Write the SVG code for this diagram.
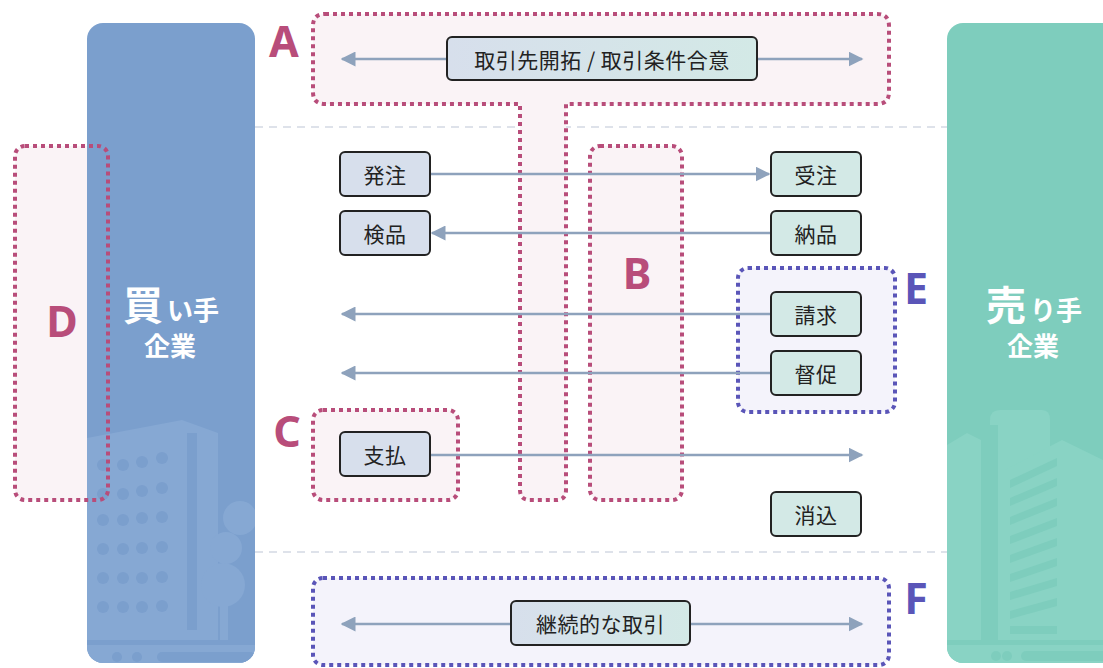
<svg xmlns="http://www.w3.org/2000/svg" width="1103" height="668" viewBox="0 0 1103 668">
  <style>
    .zone-r { fill: #faf3f6; stroke: #b84d7a; stroke-width: 4; stroke-dasharray: 4 4; }
    .zone-b { fill: #f4f3fb; stroke: #5a55b8; stroke-width: 4; stroke-dasharray: 4 4; }
    .tag { font-family: "Noto Sans", "Lato", sans-serif; font-weight: 700; font-size: 43px; text-anchor: middle; }
    .tag-r { fill: #b84d7a; }
    .tag-b { fill: #5a55b8; }
    .node { stroke: #222; stroke-width: 2; }
    .buy { fill: #d7dfec; }
    .sell { fill: #d3e9e6; }
    .lbl { font-family: "Noto Sans CJK JP", "Noto Sans", sans-serif; font-size: 21px; fill: #222; text-anchor: middle; dominant-baseline: central; letter-spacing: 0.5px; }
    .conn { stroke: #8ea2bc; stroke-width: 2.5; fill: none; }
    .party { font-family: "Noto Sans CJK JP", "Noto Sans", sans-serif; font-weight: 700; fill: #fff; }
    .sep { stroke: #d4d9e4; stroke-width: 1.5; stroke-dasharray: 8 6; }
  </style>
  <defs>
    <marker id="ah" viewBox="0 0 10 10" refX="9" refY="5" markerWidth="6" markerHeight="6" orient="auto-start-reverse" markerUnits="strokeWidth">
      <path d="M0 0 L10 5 L0 10 Z" fill="#8ea2bc"/>
    </marker>
    <linearGradient id="g" x1="0" x2="1" y1="0" y2="0">
      <stop offset="0" stop-color="#d7dfec"/>
      <stop offset="1" stop-color="#d3e9e6"/>
    </linearGradient>
    <clipPath id="clip-buyer">
      <rect x="87" y="23" width="168" height="640" rx="16"/>
    </clipPath>
    <clipPath id="clip-seller">
      <rect x="947" y="23" width="176" height="640" rx="16"/>
    </clipPath>
  </defs>

  <rect width="1103" height="668" fill="#fff"/>

  <!-- section separators -->
  <line class="sep" x1="255" y1="127" x2="947" y2="127"/>
  <line class="sep" x1="255" y1="552" x2="947" y2="552"/>

  <!-- D zone background (sits under the buyer panel) -->
  <rect x="15" y="146" width="93" height="354" rx="10" fill="#faf3f6"/>

  <!-- buyer company panel -->
  <g id="buyer">
    <rect x="87" y="23" width="168" height="640" rx="16" fill="#7b9fcd"/>
    <g clip-path="url(#clip-buyer)">
      <g fill="#86a8d3">
        <path d="M87 438 L182 420 L218 433 L218 640 L87 640 Z"/>
        <rect x="87" y="640" width="168" height="23"/>
      </g>
      <g fill="#7b9fcd">
        <rect x="187" y="433" width="10" height="197"/>
        <circle cx="103" cy="465" r="6"/><circle cx="123" cy="465" r="6"/><circle cx="142" cy="462" r="6"/><circle cx="162" cy="458" r="6"/>
        <circle cx="103" cy="494" r="6"/><circle cx="123" cy="494" r="6"/><circle cx="142" cy="491" r="6"/><circle cx="162" cy="488" r="6"/>
        <circle cx="103" cy="520" r="6"/><circle cx="123" cy="520" r="6"/><circle cx="142" cy="518" r="6"/><circle cx="162" cy="517" r="6"/>
        <circle cx="103" cy="549" r="6"/><circle cx="123" cy="549" r="6"/><circle cx="142" cy="548" r="6"/><circle cx="162" cy="547" r="6"/>
        <circle cx="103" cy="578" r="6"/><circle cx="123" cy="578" r="6"/><circle cx="142" cy="578" r="6"/><circle cx="162" cy="577" r="6"/>
        <circle cx="103" cy="607" r="6"/><circle cx="123" cy="607" r="6"/><circle cx="142" cy="607" r="6"/><circle cx="162" cy="606" r="6"/>
        <rect x="87" y="640" width="168" height="5"/>
        <circle cx="117" cy="657" r="5"/><circle cx="137" cy="657" r="5"/>
        <rect x="157" y="652" width="98" height="10" rx="5"/>
      </g>
      <g fill="#86a8d3">
        <circle cx="240" cy="518" r="17"/>
        <circle cx="226" cy="548" r="16"/>
        <circle cx="223" cy="585" r="22"/>
        <rect x="220" y="600" width="8" height="40"/>
      </g>
    </g>
    <text class="party" x="143" y="320" font-size="40" text-anchor="middle">買</text>
    <text class="party" x="167" y="320" font-size="26">い手</text>
    <text class="party" x="170" y="356" font-size="26" text-anchor="middle">企業</text>
  </g>

  <!-- seller company panel -->
  <g id="seller">
    <rect x="947" y="23" width="176" height="640" rx="16" fill="#7ecdbd"/>
    <g clip-path="url(#clip-seller)">
      <g fill="#89d3c4">
        <path d="M947 445 L967 433 L981 440 L981 640 L947 640 Z"/>
        <path d="M990 420 Q990 410 1000 410 L1042 410 Q1050 410 1050 420 L1050 640 L990 640 Z"/>
        <path d="M1005 470 L1062 440 L1103 460 L1103 640 L1005 640 Z"/>
        <rect x="947" y="640" width="176" height="23"/>
      </g>
      <g fill="#7ecdbd">
        <rect x="990" y="425" width="8" height="215"/>
        <path d="M1010 480 L1057 458 L1057 466 L1010 488 Z"/>
        <path d="M1010 498 L1057 478 L1057 486 L1010 506 Z"/>
        <path d="M1010 517 L1057 498 L1057 506 L1010 525 Z"/>
        <path d="M1010 536 L1057 518 L1057 526 L1010 544 Z"/>
        <path d="M1010 555 L1057 538 L1057 546 L1010 563 Z"/>
        <path d="M1010 574 L1057 558 L1057 566 L1010 582 Z"/>
        <path d="M1010 592 L1057 578 L1057 586 L1010 600 Z"/>
        <path d="M1010 611 L1057 598 L1057 606 L1010 619 Z"/>
        <rect x="1010" y="626" width="47" height="8"/>
        <rect x="947" y="640" width="176" height="5"/>
        <circle cx="996" cy="656" r="5"/><circle cx="1007" cy="656" r="5"/>
        <rect x="1021" y="651" width="102" height="10" rx="5"/>
      </g>
    </g>
    <text class="party" x="1006" y="320" font-size="40" text-anchor="middle">売</text>
    <text class="party" x="1030" y="320" font-size="26">り手</text>
    <text class="party" x="1033" y="356" font-size="26" text-anchor="middle">企業</text>
  </g>

  <!-- zones -->
  <g id="zone-A">
    <path class="zone-r" d="M325 14 H877 Q889 14 889 26 V92 Q889 104 877 104 H566 V490 Q566 500 556 500 H530 Q520 500 520 490 V104 H325 Q313 104 313 92 V26 Q313 14 325 14 Z"/>
    <text class="tag tag-r" x="284" y="57">A</text>
  </g>
  <g id="zone-B">
    <rect class="zone-r" x="590" y="146" width="92" height="354" rx="10"/>
    <text class="tag tag-r" x="637" y="289">B</text>
  </g>
  <g id="zone-C">
    <rect class="zone-r" x="313" y="410" width="145" height="90" rx="10"/>
    <text class="tag tag-r" x="287" y="447">C</text>
  </g>
  <g id="zone-D">
    <rect x="15" y="146" width="93" height="354" rx="10" fill="none" stroke="#b84d7a" stroke-width="4" stroke-dasharray="4 4"/>
    <text class="tag tag-r" x="62" y="337">D</text>
  </g>
  <g id="zone-E">
    <rect class="zone-b" x="738" y="268" width="157" height="144" rx="10"/>
    <text class="tag tag-b" x="916" y="304">E</text>
  </g>
  <g id="zone-F">
    <rect class="zone-b" x="313" y="578" width="576" height="87" rx="10"/>
    <text class="tag tag-b" x="916" y="614">F</text>
  </g>

  <!-- connectors -->
  <g id="connectors">
    <line class="conn" x1="447" y1="59" x2="342" y2="59" marker-end="url(#ah)"/>
    <line class="conn" x1="757" y1="59" x2="862" y2="59" marker-end="url(#ah)"/>
    <line class="conn" x1="430" y1="174" x2="769" y2="174" marker-end="url(#ah)"/>
    <line class="conn" x1="771" y1="233" x2="432" y2="233" marker-end="url(#ah)"/>
    <line class="conn" x1="771" y1="314" x2="342" y2="314" marker-end="url(#ah)"/>
    <line class="conn" x1="771" y1="373" x2="342" y2="373" marker-end="url(#ah)"/>
    <line class="conn" x1="430" y1="455" x2="862" y2="455" marker-end="url(#ah)"/>
    <line class="conn" x1="511" y1="624" x2="342" y2="624" marker-end="url(#ah)"/>
    <line class="conn" x1="690" y1="624" x2="862" y2="624" marker-end="url(#ah)"/>
  </g>

  <!-- nodes -->
  <g id="n-deal">
    <rect class="node" x="447" y="37" width="310" height="43" rx="5" fill="url(#g)"/>
    <text class="lbl" x="602" y="58.5">取引先開拓 / 取引条件合意</text>
  </g>
  <g id="n-order">
    <rect class="node buy" x="340" y="152" width="90" height="44" rx="5"/>
    <text class="lbl" x="385" y="174">発注</text>
  </g>
  <g id="n-inspect">
    <rect class="node buy" x="340" y="211" width="90" height="44" rx="5"/>
    <text class="lbl" x="385" y="233">検品</text>
  </g>
  <g id="n-receive">
    <rect class="node sell" x="771" y="152" width="90" height="44" rx="5"/>
    <text class="lbl" x="816" y="174">受注</text>
  </g>
  <g id="n-deliver">
    <rect class="node sell" x="771" y="211" width="90" height="44" rx="5"/>
    <text class="lbl" x="816" y="233">納品</text>
  </g>
  <g id="n-invoice">
    <rect class="node sell" x="771" y="292" width="90" height="44" rx="5"/>
    <text class="lbl" x="816" y="314">請求</text>
  </g>
  <g id="n-dun">
    <rect class="node sell" x="771" y="351" width="90" height="44" rx="5"/>
    <text class="lbl" x="816" y="373">督促</text>
  </g>
  <g id="n-pay">
    <rect class="node buy" x="340" y="432" width="90" height="44" rx="5"/>
    <text class="lbl" x="385" y="454">支払</text>
  </g>
  <g id="n-clear">
    <rect class="node sell" x="771" y="492" width="90" height="44" rx="5"/>
    <text class="lbl" x="816" y="514">消込</text>
  </g>
  <g id="n-ongoing">
    <rect class="node" x="511" y="601" width="179" height="44" rx="5" fill="url(#g)"/>
    <text class="lbl" x="600.5" y="623">継続的な取引</text>
  </g>
</svg>
